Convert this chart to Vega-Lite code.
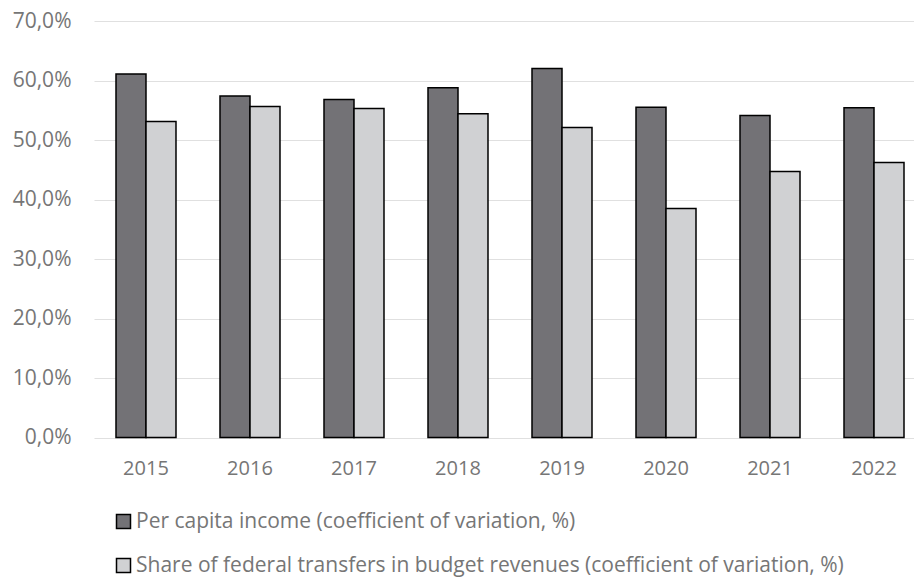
{
  "$schema": "https://vega.github.io/schema/vega-lite/v6.json",
  "width": 820,
  "height": 416.5,
  "autosize": {"type": "none"},
  "padding": {"left": 94, "top": 21, "right": 0, "bottom": 139.5},
  "background": "white",
  "config": {"view": {"stroke": null}, "font": "Open Sans"},
  "data": {
    "values": [
      {"year": "2015", "series": "Per capita income (coefficient of variation, %)", "value": 61.1},
      {"year": "2015", "series": "Share of federal transfers in budget revenues (coefficient of variation, %)", "value": 53.1},
      {"year": "2016", "series": "Per capita income (coefficient of variation, %)", "value": 57.4},
      {"year": "2016", "series": "Share of federal transfers in budget revenues (coefficient of variation, %)", "value": 55.65},
      {"year": "2017", "series": "Per capita income (coefficient of variation, %)", "value": 56.8},
      {"year": "2017", "series": "Share of federal transfers in budget revenues (coefficient of variation, %)", "value": 55.3},
      {"year": "2018", "series": "Per capita income (coefficient of variation, %)", "value": 58.8},
      {"year": "2018", "series": "Share of federal transfers in budget revenues (coefficient of variation, %)", "value": 54.4},
      {"year": "2019", "series": "Per capita income (coefficient of variation, %)", "value": 62.0},
      {"year": "2019", "series": "Share of federal transfers in budget revenues (coefficient of variation, %)", "value": 52.1},
      {"year": "2020", "series": "Per capita income (coefficient of variation, %)", "value": 55.5},
      {"year": "2020", "series": "Share of federal transfers in budget revenues (coefficient of variation, %)", "value": 38.5},
      {"year": "2021", "series": "Per capita income (coefficient of variation, %)", "value": 54.1},
      {"year": "2021", "series": "Share of federal transfers in budget revenues (coefficient of variation, %)", "value": 44.7},
      {"year": "2022", "series": "Per capita income (coefficient of variation, %)", "value": 55.4},
      {"year": "2022", "series": "Share of federal transfers in budget revenues (coefficient of variation, %)", "value": 46.2}
    ]
  },
  "mark": {"type": "bar", "stroke": "black", "strokeWidth": 1.5},
  "encoding": {
    "x": {
      "field": "year",
      "type": "nominal",
      "scale": {"range": [0, 832], "paddingInner": 0.4231, "paddingOuter": 0.2115},
      "axis": {
        "title": null,
        "labelAngle": 0,
        "domain": false,
        "ticks": false,
        "labelFontSize": 20,
        "labelColor": "#767676",
        "labelPadding": 21
      }
    },
    "xOffset": {
      "field": "series",
      "type": "nominal",
      "sort": ["Per capita income (coefficient of variation, %)", "Share of federal transfers in budget revenues (coefficient of variation, %)"],
      "scale": {"paddingInner": 0, "paddingOuter": 0}
    },
    "y": {
      "field": "value",
      "type": "quantitative",
      "scale": {"domain": [0, 70]},
      "axis": {
        "title": null,
        "values": [0, 10, 20, 30, 40, 50, 60, 70],
        "domain": false,
        "ticks": false,
        "gridColor": "#e0e0e0",
        "gridWidth": 1.2,
        "labelFontSize": 21,
        "labelColor": "#767676",
        "labelPadding": 23,
        "labelExpr": "replace(format(datum.value, '.1f'), '.', ',') + '%'"
      }
    },
    "color": {
      "field": "series",
      "type": "nominal",
      "scale": {
        "domain": ["Per capita income (coefficient of variation, %)", "Share of federal transfers in budget revenues (coefficient of variation, %)"],
        "range": ["#737276", "#d0d1d3"]
      },
      "legend": {
        "orient": "none",
        "legendX": 19,
        "legendY": 490,
        "direction": "vertical",
        "title": null,
        "padding": 0,
        "symbolType": "square",
        "symbolSize": 196,
        "symbolStrokeColor": "black",
        "symbolStrokeWidth": 1.5,
        "symbolOpacity": 1,
        "labelFontSize": 21,
        "labelColor": "#767676",
        "labelOffset": 2,
        "labelLimit": 900,
        "rowPadding": 22
      }
    }
  }
}
